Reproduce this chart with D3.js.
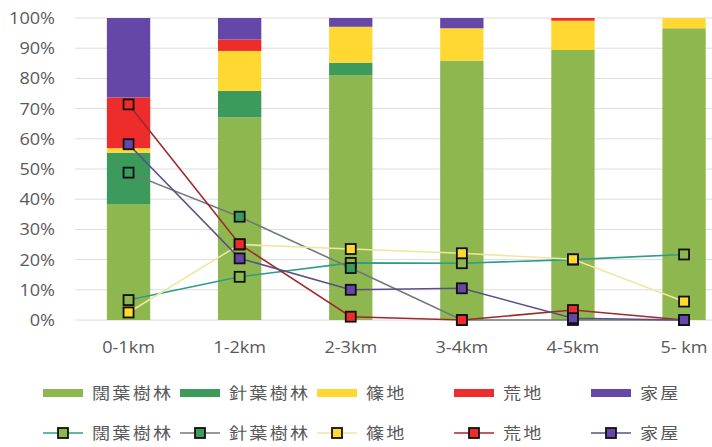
<!DOCTYPE html>
<html>
<head>
<meta charset="utf-8">
<script src="https://cdn.jsdelivr.net/npm/d3@7"></script>
<style>
  html, body { margin: 0; padding: 0; background: #fff; }
  svg { display: block; }
  text { font-family: "Open Sans", "Noto Sans CJK JP", sans-serif; fill: #595959; font-size: 16px; }
  .cjk { font-family: "Noto Sans CJK JP", sans-serif; letter-spacing: 2px; }
</style>
</head>
<body>
<svg id="chart" width="712" height="447"></svg>
<script>
// Distance bands from the settlement
const categories = ["0-1km", "1-2km", "2-3km", "3-4km", "4-5km", "5- km"];
const seriesNames = ["闊葉樹林", "針葉樹林", "篠地", "荒地", "家屋"];

// Land-use share within each band (stacked bars, %)
const barBroadleaf = [38.4, 67.1, 81.1, 85.9, 89.4, 96.6];
const barConifer   = [17.0, 8.8, 4.1, 0, 0, 0];
const barBamboo    = [1.5, 13.2, 11.9, 10.7, 9.7, 3.4];
const barWaste     = [16.8, 3.8, 0, 0, 0.9, 0];
const barHouse     = [26.3, 7.1, 2.9, 3.4, 0, 0];

// Share of each land type found in each band (lines, %)
const lineBroadleaf = [6.6, 14.3, 18.9, 18.8, 20.0, 21.7];
const lineConifer   = [48.8, 34.2, 17.2, 0, 0, 0];
const lineBamboo    = [2.5, 25.0, 23.5, 22.1, 20.1, 6.1];
const lineWaste     = [71.4, 25.1, 1.1, 0, 3.3, 0];
const lineHouse     = [58.2, 20.4, 10.0, 10.5, 0.6, 0];

const yTicks = [0, 10, 20, 30, 40, 50, 60, 70, 80, 90, 100];

const fillColors = ["#8eb84f", "#3c9b5c", "#ffd932", "#ee2c2c", "#6547a8"];
const lineColors = ["#2e9c8c", "#6f7a78", "#f0e6a0", "#a0282c", "#5b4f86"];

const barSeries = [barBroadleaf, barConifer, barBamboo, barWaste, barHouse];
const lineSeries = [lineBroadleaf, lineConifer, lineBamboo, lineWaste, lineHouse];

const svg = d3.select("#chart");
const stretch = 1.13;   // text is set slightly wide

const x = d3.scaleBand().domain(categories).range([73, 739.6])
  .paddingInner(0.61).paddingOuter(0.305);
const y = d3.scaleLinear().domain([0, 100]).range([320, 18]);

// horizontal gridlines
svg.append("g").selectAll("line").data(yTicks).join("line")
  .attr("x1", 75).attr("x2", 712)
  .attr("y1", d => y(d)).attr("y2", d => y(d))
  .attr("stroke", "#dcdcdc").attr("stroke-width", 1);

// y-axis labels
svg.append("g").selectAll("text").data(yTicks).join("text")
  .attr("text-anchor", "end")
  .attr("transform", d => `translate(55,${y(d) + 6}) scale(${stretch},1)`)
  .text(d => d + "%");

// stacked bars
const rows = categories.map((c, i) => {
  const r = { cat: c };
  seriesNames.forEach((s, k) => { r[s] = barSeries[k][i]; });
  return r;
});
const stacked = d3.stack().keys(seriesNames)(rows);
svg.append("g").selectAll("g").data(stacked).join("g")
  .attr("fill", (d, k) => fillColors[k])
  .selectAll("rect").data(d => d).join("rect")
  .attr("x", d => x(d.data.cat))
  .attr("width", x.bandwidth())
  .attr("y", d => y(d[1]))
  .attr("height", d => Math.max(0, y(d[0]) - y(d[1])));

// x-axis labels
svg.append("g").selectAll("text").data(categories).join("text")
  .attr("text-anchor", "middle")
  .attr("transform", d => `translate(${x(d) + x.bandwidth() / 2},353) scale(${stretch},1)`)
  .text(d => d);

// line series with square markers
const cx = c => x(c) + x.bandwidth() / 2;
const lineGen = d3.line().x((d, i) => cx(categories[i])).y(d => y(d));
const ms = 10;
lineSeries.forEach((vals, k) => {
  svg.append("path").datum(vals)
    .attr("d", lineGen)
    .attr("fill", "none")
    .attr("stroke", lineColors[k])
    .attr("stroke-width", 1.6);
});
lineSeries.forEach((vals, k) => {
  svg.append("g").selectAll("rect").data(vals).join("rect")
    .attr("x", (d, i) => cx(categories[i]) - ms / 2)
    .attr("y", d => y(d) - ms / 2)
    .attr("width", ms).attr("height", ms)
    .attr("fill", fillColors[k])
    .attr("stroke", "#111").attr("stroke-width", 1.8);
});

// legend: bars row, then lines row
const legX = i => 43 + i * 137;
const legend = svg.append("g");
seriesNames.forEach((name, k) => {
  const lx = legX(k);
  legend.append("rect").attr("x", lx).attr("y", 389).attr("width", 40).attr("height", 8)
    .attr("fill", fillColors[k]);
  legend.append("text").attr("class", "cjk")
    .attr("transform", `translate(${lx + 49},399) scale(${stretch},1)`)
    .text(name);

  legend.append("line").attr("x1", lx).attr("x2", lx + 40).attr("y1", 433).attr("y2", 433)
    .attr("stroke", lineColors[k]).attr("stroke-width", 1.6);
  legend.append("rect").attr("x", lx + 20 - ms / 2).attr("y", 433 - ms / 2)
    .attr("width", ms).attr("height", ms)
    .attr("fill", fillColors[k]).attr("stroke", "#111").attr("stroke-width", 1.8);
  legend.append("text").attr("class", "cjk")
    .attr("transform", `translate(${lx + 49},439) scale(${stretch},1)`)
    .text(name);
});
</script>
</body>
</html>
